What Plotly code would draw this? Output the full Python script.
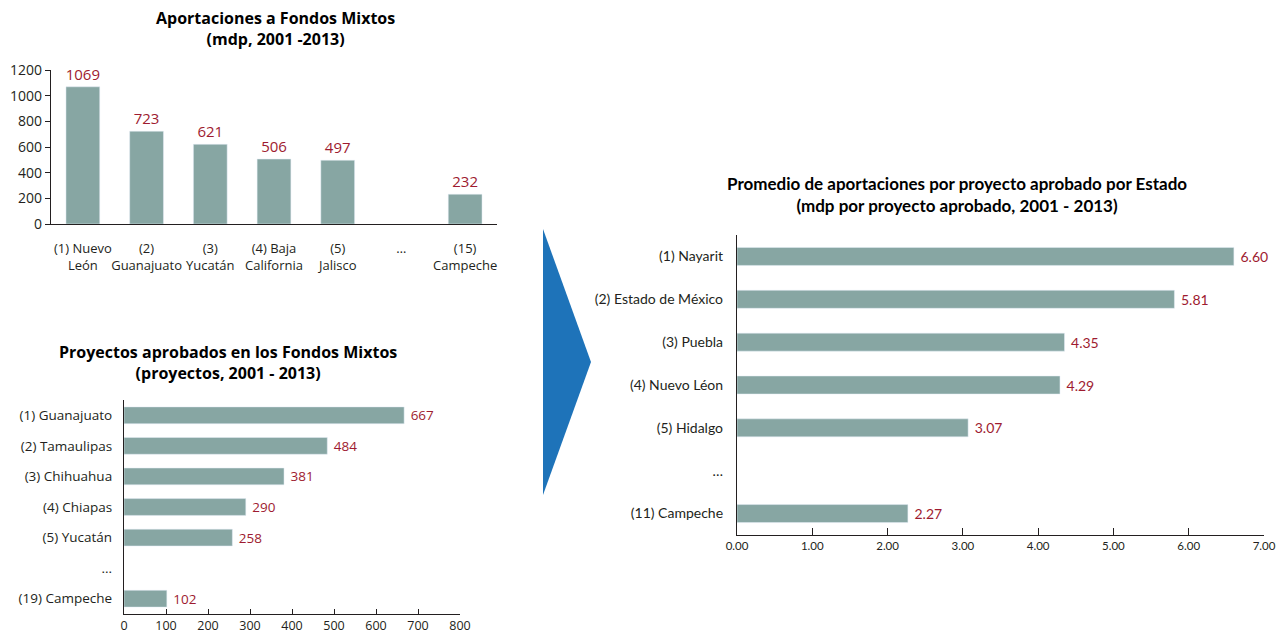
import plotly.graph_objects as go

W, H = 1283, 633

# ---------------- data ----------------
cat1 = ["(1) Nuevo<br>León", "(2)<br>Guanajuato", "(3)<br>Yucatán",
        "(4) Baja<br>California", "(5)<br>Jalisco", "…", "(15)<br>Campeche"]
val1 = [1069, 723, 621, 506, 497, None, 232]
ticks1 = [0, 200, 400, 600, 800, 1000, 1200]

cat2 = ["(1) Guanajuato", "(2) Tamaulipas", "(3) Chihuahua", "(4) Chiapas",
        "(5) Yucatán", "...", "(19) Campeche"]
val2 = [667, 484, 381, 290, 258, None, 102]
ticks2 = [0, 100, 200, 300, 400, 500, 600, 700, 800]

cat3 = ["(1) Nayarit", "(2) Estado de México", "(3) Puebla", "(4) Nuevo Léon",
        "(5) Hidalgo", "…", "(11) Campeche"]
val3 = [6.60, 5.81, 4.35, 4.29, 3.07, None, 2.27]
ticks3 = [0, 1, 2, 3, 4, 5, 6, 7]

title1 = "<b>Aportaciones a Fondos Mixtos<br>(mdp, 2001 -2013)</b>"
title2 = "<b>Proyectos aprobados en los Fondos Mixtos<br>(proyectos, 2001 - 2013)</b>"
title3 = "<b>Promedio de aportaciones por proyecto aprobado por Estado<br>(mdp por proyecto aprobado, 2001 - 2013)</b>"

# ---------------- style ----------------
BAR = "#87A6A3"
RED = "#9E1B30"
INK = "#231F20"
F1 = "'Open Sans', Lato, sans-serif"
F3 = "Lato, 'Open Sans', sans-serif"


def px(x):
    return x / W


def py(y):
    return 1 - y / H


fig = go.Figure()

fig.add_trace(go.Bar(
    x=cat1, y=val1, xaxis="x", yaxis="y", marker_color=BAR, width=0.53,
    text=[("" if v is None else str(v)) for v in val1], textposition="outside",
    textfont=dict(color=RED, size=15, family=F1), cliponaxis=False,
    constraintext="none", showlegend=False, hoverinfo="skip"))

fig.add_trace(go.Bar(
    y=cat2, x=val2, orientation="h", xaxis="x2", yaxis="y2", marker_color=BAR,
    width=0.55, text=[("" if v is None else str(v)) for v in val2],
    texttemplate=" %{text}",
    textposition="outside", textfont=dict(color=RED, size=13.5, family=F1),
    cliponaxis=False, constraintext="none", showlegend=False, hoverinfo="skip"))

fig.add_trace(go.Bar(
    y=cat3, x=val3, orientation="h", xaxis="x3", yaxis="y3", marker_color=BAR,
    width=0.42, text=[("" if v is None else f"{v:.2f}") for v in val3],
    texttemplate=" %{text}",
    textposition="outside", textfont=dict(color=RED, size=14, family=F3),
    cliponaxis=False, constraintext="none", showlegend=False, hoverinfo="skip"))

axline = dict(showline=True, linecolor=INK, linewidth=1.3, showgrid=False,
              zeroline=False, automargin=False)

fig.update_layout(
    width=W, height=H, margin=dict(l=0, r=0, t=0, b=0),
    paper_bgcolor="white", plot_bgcolor="white",
    font=dict(family=F1, color=INK),
    xaxis=dict(domain=[px(51), px(497)], type="category",
               categoryorder="array", categoryarray=cat1, anchor="y",
               ticks="", tickangle=0, tickfont=dict(size=13),
               ticklabelstandoff=12, **axline),
    yaxis=dict(domain=[py(224), py(70)], range=[0, 1200], tickvals=ticks1,
               anchor="x", ticks="outside", ticklen=5, tickcolor=INK,
               tickfont=dict(size=14), **axline),
    xaxis2=dict(domain=[px(124), px(460)], range=[0, 800], tickvals=ticks2,
                anchor="y2", ticks="inside", ticklen=5, tickcolor=INK,
                tickangle=0, tickfont=dict(size=12.5), **axline),
    yaxis2=dict(domain=[py(614), py(400)], type="category",
                categoryorder="array", categoryarray=cat2,
                autorange="reversed", anchor="x2", ticks="",
                tickfont=dict(size=13.5), ticklabelstandoff=8, **axline),
    xaxis3=dict(domain=[px(737), px(1264)], range=[0, 7], tickvals=ticks3,
                tickformat=".2f", anchor="y3", ticks="inside", ticklen=7,
                tickangle=0, tickcolor=INK, tickfont=dict(size=11.5, family=F3),
                **axline),
    yaxis3=dict(domain=[py(535), py(235)], type="category",
                categoryorder="array", categoryarray=cat3,
                autorange="reversed", anchor="x3", ticks="",
                tickfont=dict(size=14, family=F3), ticklabelstandoff=10,
                **axline),
    annotations=[
        dict(text=title1, x=px(275), y=py(29), xref="paper", yref="paper",
             showarrow=False, xanchor="center", yanchor="middle",
             font=dict(size=16, family=F1, color="black")),
        dict(text=title2, x=px(228), y=py(362), xref="paper", yref="paper",
             showarrow=False, xanchor="center", yanchor="middle",
             font=dict(size=16, family=F1, color="black")),
        dict(text=title3, x=px(957), y=py(195), xref="paper", yref="paper",
             showarrow=False, xanchor="center", yanchor="middle",
             font=dict(size=17, family=F3, color="black")),
    ],
    shapes=[
        dict(type="path", xref="paper", yref="paper",
             path=f"M {px(543)} {py(229)} L {px(591)} {py(362)} L {px(543)} {py(495)} Z",
             fillcolor="#1E73B9", line=dict(width=0)),
    ],
)

fig.write_html("out.html", config={"displayModeBar": False},
               post_script="document.body.style.margin='0px';")
